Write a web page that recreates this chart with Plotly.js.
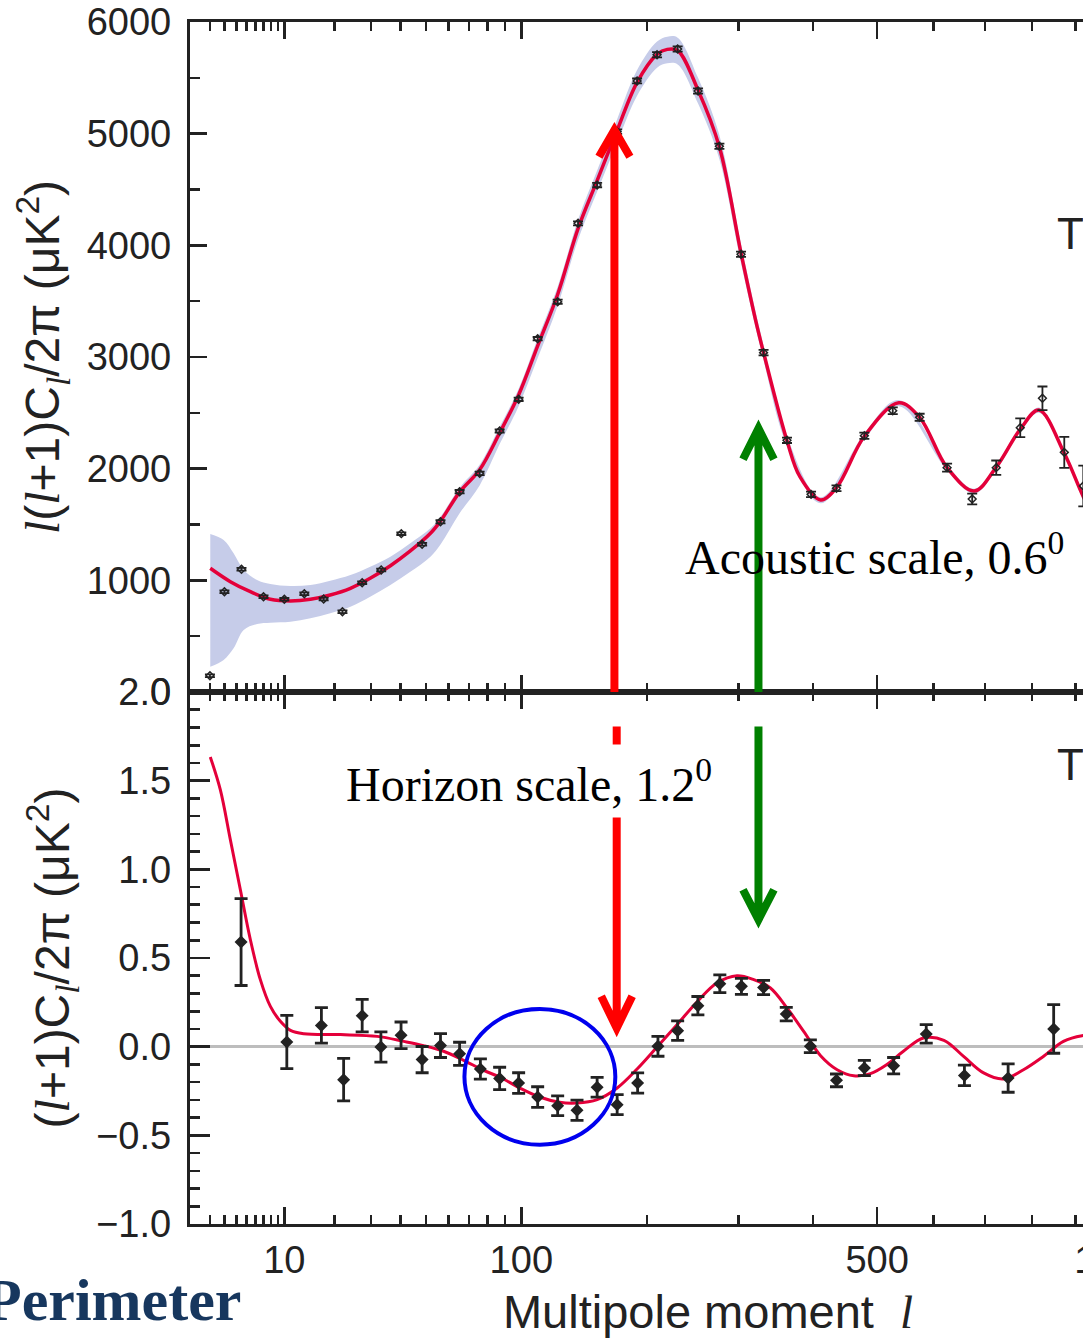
<!DOCTYPE html>
<html>
<head>
<meta charset="utf-8">
<script src="https://cdn.plot.ly/plotly-3.0.1.min.js"></script>
<style>
html,body{margin:0;padding:0;overflow:hidden;background:#fff}
#chart{width:1226px;height:1338px}
</style>
</head>
<body>
<div id="chart"></div>
<script>
// ---------- data (multipole l) ----------
const ttL   = [2, 3, 4.5, 7, 10, 13.5, 17.5, 22, 27.4, 33.3, 40.3, 48.4, 56.3, 65.3, 75.6, 86.8, 98.3, 110.7, 124.7, 140, 155.3, 172.4, 190.5, 209.7, 230.7, 252.7, 277, 303, 331.6, 363, 397, 435, 479, 526.5, 574, 625, 674, 723, 774, 823, 873, 918];
const ttVal = [146, 898, 1099, 853, 830, 880, 833, 719, 979, 1093, 1418, 1323, 1525, 1794, 1958, 2337, 2621, 3164, 3495, 4197, 4540, 5018, 5472, 5707, 5758, 5382, 4887, 3920, 3039, 2254, 1770, 1824, 2295, 2519, 2460, 2009, 1728, 2009, 2367, 2630, 2146, 1845];
const ttErr = [12, 12, 12, 12, 12, 12, 12, 12, 12, 12, 12, 12, 15, 15, 15, 15, 15, 15, 18, 18, 20, 20, 22, 24, 24, 24, 24, 24, 24, 24, 24, 26, 28, 30, 32, 36, 48, 64, 84, 106, 139, 183];

const ttFitL   = [2.02, 3.48, 5.43, 7.92, 11, 14.7, 19, 24.1, 29.8, 36.4, 43.7, 51.9, 56.3, 65.3, 75.6, 86.8, 98.3, 110.7, 124.7, 140, 155.3, 172.4, 190.5, 209.7, 220, 230.7, 252.7, 277, 303, 321, 331.6, 363, 381, 411, 435, 479, 537, 574, 625, 678, 723, 774, 815, 873, 918, 960];
const ttFitVal = [1108, 988, 898, 830, 815, 830, 869, 929, 1018, 1131, 1263, 1421, 1530, 1790, 1990, 2320, 2660, 3100, 3560, 4150, 4580, 5030, 5460, 5710, 5755, 5745, 5390, 4880, 3930, 3340, 3040, 2250, 1928, 1720, 1830, 2290, 2590, 2460, 2009, 1800, 2014, 2353, 2525, 2138, 1749, 1450];

const bandL  = [2.02, 2.94, 3.76, 4.72, 6.2, 7.92, 11, 14.7, 19, 24.1, 29.8, 36.4, 43.7, 51.9, 56.3, 65.3, 75.6, 86.8, 98.3, 110.7, 124.7, 140, 155.3, 172.4, 190.5, 209.7, 220, 230.7, 252.7, 277, 303, 331.6, 363, 411, 479, 537, 625, 678, 723, 774, 815, 873, 918];
const bandHi = [1415, 1361, 1242, 1093, 1003, 967, 949, 958, 997, 1048, 1122, 1212, 1332, 1466, 1570, 1830, 2035, 2375, 2715, 3165, 3630, 4230, 4670, 5130, 5570, 5825, 5868, 5860, 5500, 4985, 4010, 3100, 2290, 1745, 2315, 2615, 2030, 1820, 2035, 2375, 2548, 2160, 1770];
const bandLo = [227, 287, 391, 555, 609, 621, 630, 660, 705, 764, 853, 958, 1077, 1212, 1320, 1600, 1850, 2220, 2560, 2990, 3460, 4050, 4480, 4920, 5340, 5590, 5630, 5620, 5270, 4770, 3840, 2970, 2200, 1690, 2260, 2560, 1985, 1775, 1990, 2330, 2500, 2115, 1725];

const teL   = [4.46, 10.4, 17, 22.3, 27.4, 33.2, 40.2, 48.4, 56.3, 65.3, 76, 86.8, 98.3, 110.7, 124.7, 139.2, 155.3, 172.4, 191, 210.6, 230.7, 252.5, 277.5, 303.5, 331.6, 362, 396, 435, 479, 528, 586, 658.6, 748, 848.5];
const teVal = [0.59, 0.026, 0.12, -0.186, 0.175, -0.002, 0.064, -0.073, 0.006, -0.04, -0.126, -0.179, -0.205, -0.284, -0.333, -0.359, -0.229, -0.327, -0.205, 0.002, 0.09, 0.231, 0.355, 0.34, 0.334, 0.184, 0.002, -0.19, -0.12, -0.107, 0.072, -0.162, -0.177, 0.1];
const teErr = [0.245, 0.15, 0.1, 0.12, 0.092, 0.085, 0.075, 0.074, 0.067, 0.065, 0.057, 0.063, 0.058, 0.058, 0.056, 0.057, 0.056, 0.056, 0.057, 0.056, 0.055, 0.052, 0.05, 0.045, 0.04, 0.038, 0.036, 0.036, 0.043, 0.046, 0.052, 0.058, 0.08, 0.137];

const teFitL   = [2.02, 2.69, 3.48, 4.39, 5.43, 6.6, 7.92, 9.38, 11, 13.4, 21.5, 32, 41.2, 49, 57.7, 67.3, 77.8, 86.8, 99, 112, 126.2, 139, 155.3, 172.4, 190.5, 209.7, 230, 252, 274, 298, 319, 340.6, 363, 386.4, 411, 436, 462, 489, 516, 545, 581, 619, 657, 697, 738, 781, 825, 871, 915, 950];
const teFitVal = [1.634, 1.449, 1.167, 0.885, 0.603, 0.378, 0.227, 0.143, 0.092, 0.073, 0.068, 0.058, 0.03, 0.006, -0.026, -0.077, -0.134, -0.171, -0.233, -0.284, -0.314, -0.318, -0.299, -0.233, -0.126, -0.002, 0.124, 0.255, 0.359, 0.4, 0.378, 0.331, 0.218, 0.086, -0.051, -0.13, -0.164, -0.152, -0.102, -0.026, 0.049, 0.036, -0.055, -0.148, -0.182, -0.13, -0.055, 0.03, 0.062, 0.065];

const majorTicks = [10, 100, 500, 1000];
const majorText  = ['10', '100', '500', '1000'];
const minorTicks = [2, 3, 4, 5, 6, 7, 8, 9, 20, 30, 40, 50, 60, 70, 80, 90, 200, 300, 400, 600, 700, 800, 900, 1100, 1200];

// annotation anchors (multipole / value)
const lAcoustic = 325, lHorizon = 170, lHorizon2 = 172;
const circleL = [67.7, 170.8], circleV = [-0.553, 0.213];

// ---------- axis transform: x is drawn as l^0.4 ----------
const P = 0.4;
const tx = l => Math.pow(l, P);
const T = arr => arr.map(tx);

const ink = '#222222';
const red = '#e4003a';
const L = '<span style="font-family:Liberation Serif;font-style:italic">l</span>';

const traces = [
  {x: T(bandL), y: bandLo, xaxis: 'x', yaxis: 'y', mode: 'lines', line: {width: 0, shape: 'spline', color: 'rgba(0,0,0,0)'}, hoverinfo: 'skip', showlegend: false},
  {x: T(bandL), y: bandHi, xaxis: 'x', yaxis: 'y', mode: 'lines', fill: 'tonexty', fillcolor: '#c6cce9', line: {width: 0, shape: 'spline', color: 'rgba(0,0,0,0)'}, hoverinfo: 'skip', showlegend: false},
  {x: T(ttFitL), y: ttFitVal, xaxis: 'x', yaxis: 'y', mode: 'lines', line: {color: red, width: 3.5, shape: 'spline'}, showlegend: false},
  {x: T(ttL), y: ttVal, xaxis: 'x', yaxis: 'y', mode: 'markers', marker: {symbol: 'diamond-open', size: 6, color: ink, line: {width: 1.5, color: ink}},
   error_y: {type: 'data', array: ttErr, visible: true, color: ink, thickness: 1.8, width: 5}, showlegend: false},
  {x: T(teFitL), y: teFitVal, xaxis: 'x2', yaxis: 'y2', mode: 'lines', line: {color: red, width: 3, shape: 'spline'}, showlegend: false},
  {x: T(teL), y: teVal, xaxis: 'x2', yaxis: 'y2', mode: 'markers', marker: {symbol: 'diamond', size: 10, color: ink},
   error_y: {type: 'data', array: teErr, visible: true, color: ink, thickness: 2.8, width: 6.5}, showlegend: false}
];

const tickFont = {family: 'Liberation Sans, Arial, sans-serif', size: 38, color: ink};
const titleFont = {family: 'Liberation Sans, Arial, sans-serif', size: 47, color: ink};
const yTitleFont = {family: 'Liberation Sans, Arial, sans-serif', size: 48, color: ink};
const xr = [1, 1 + 1036 / 62.4];
const botFrac = 532 / 1202;

const xBase = {
  range: xr, tickmode: 'array', tickvals: T(majorTicks), ticktext: majorText,
  ticks: 'inside', ticklen: 17, tickwidth: 2.6, tickcolor: ink,
  minor: {tickmode: 'array', tickvals: T(minorTicks), ticks: 'inside', ticklen: 9, tickwidth: 2.6, tickcolor: ink},
  showline: true, linewidth: 3.2, linecolor: ink, mirror: 'ticks', showgrid: false, zeroline: false, fixedrange: true
};

const layout = {
  width: 1226, height: 1338,
  margin: {l: 190, r: 0, t: 22, b: 114},
  paper_bgcolor: '#fff', plot_bgcolor: '#fff',
  showlegend: false,
  xaxis: Object.assign({}, xBase, {anchor: 'y', domain: [0, 1], showticklabels: false}),
  xaxis2: Object.assign({}, xBase, {anchor: 'y2', domain: [0, 1], showticklabels: true, tickfont: tickFont, ticklabelstandoff: 0,
    title: {text: 'Multipole moment  ' + L, font: titleFont, standoff: 24}}),
  yaxis: {anchor: 'x', domain: [botFrac, 1], range: [0, 6000], tickmode: 'linear', tick0: 0, dtick: 1000,
    ticks: 'inside', ticklen: 17, tickwidth: 2.6, tickcolor: ink,
    minor: {tickmode: 'linear', tick0: 0, dtick: 500, ticks: 'inside', ticklen: 10, tickwidth: 2.6, tickcolor: ink},
    showline: true, linewidth: 3.2, linecolor: ink, mirror: 'ticks', showgrid: false, zeroline: false,
    tickfont: tickFont, ticklabelstandoff: 8, fixedrange: true,
    title: {text: L + '(' + L + '+1)C<sub>' + L + '</sub>/2π (μK<sup>2</sup>)', font: yTitleFont, standoff: 12}},
  yaxis2: {anchor: 'x2', domain: [0, botFrac], range: [-1, 2], tickmode: 'linear', tick0: 0, dtick: 0.5, tickformat: '.1f',
    ticks: 'inside', ticklen: 20, tickwidth: 2.6, tickcolor: ink,
    minor: {tickmode: 'linear', tick0: 0, dtick: 0.1, ticks: 'inside', ticklen: 10, tickwidth: 2.6, tickcolor: ink},
    showline: true, linewidth: 3.2, linecolor: ink, mirror: 'ticks', showgrid: false,
    zeroline: true, zerolinecolor: '#bdbdbd', zerolinewidth: 3,
    tickfont: tickFont, ticklabelstandoff: 8, fixedrange: true,
    title: {text: '(' + L + '+1)C<sub>' + L + '</sub>/2π (μK<sup>2</sup>)', font: yTitleFont, standoff: 12}},
  shapes: [],
  annotations: []
};

// arrows
const uR = tx(lHorizon), uR2 = tx(lHorizon2), uG = tx(lAcoustic);
const hw = 0.248;
function arrowPath(u, y0, tip, arm) {
  return `M ${u},${y0} L ${u},${tip} M ${u - hw},${arm} L ${u},${tip} L ${u + hw},${arm}`;
}
layout.shapes.push(
  {type: 'path', xref: 'x', yref: 'y', path: arrowPath(uR, 0, 5033, 4794), line: {color: '#ff0000', width: 8}},
  {type: 'path', xref: 'x', yref: 'y', path: arrowPath(uG, 0, 2361, 2084), line: {color: '#008000', width: 8}},
  {type: 'path', xref: 'x2', yref: 'y2', path: arrowPath(uR2, 1.805, 0.105, 0.284), line: {color: '#ff0000', width: 8}},
  {type: 'path', xref: 'x2', yref: 'y2', path: arrowPath(uG, 1.805, 0.716, 0.885), line: {color: '#008000', width: 8}},
  {type: 'circle', xref: 'x2', yref: 'y2', x0: tx(circleL[0]), x1: tx(circleL[1]), y0: circleV[0], y1: circleV[1], line: {color: '#0000ee', width: 4}}
);

const serif = {family: 'Liberation Serif, Times New Roman, serif', size: 48, color: '#000'};
layout.annotations.push(
  {xref: 'x', yref: 'y', x: tx(236), y: 1240, xanchor: 'left', yanchor: 'middle', showarrow: false,
   text: 'Acoustic scale, 0.6<sup>0</sup>', font: serif},
  {xref: 'x2', yref: 'y2', x: tx(21.2), y: 1.50, xanchor: 'left', yanchor: 'middle', showarrow: false,
   text: 'Horizon scale, 1.2<sup>0</sup>', font: serif, bgcolor: '#ffffff', borderpad: 6},
  {xref: 'x', yref: 'y', x: tx(852), y: 4110, xanchor: 'left', yanchor: 'middle', showarrow: false,
   text: 'TT', font: {family: 'Liberation Sans, Arial, sans-serif', size: 44, color: ink}},
  {xref: 'x2', yref: 'y2', x: tx(852), y: 1.59, xanchor: 'left', yanchor: 'middle', showarrow: false,
   text: 'TE', font: {family: 'Liberation Sans, Arial, sans-serif', size: 44, color: ink}},
  {xref: 'paper', yref: 'paper', x: -0.1998, y: -0.0632, xanchor: 'left', yanchor: 'middle', showarrow: false,
   text: '<b>Perimeter</b>', font: {family: 'Liberation Serif, Times New Roman, serif', size: 60, color: '#17375e'}}
);

Plotly.newPlot('chart', traces, layout, {displayModeBar: false, staticPlot: true});
</script>
</body>
</html>
